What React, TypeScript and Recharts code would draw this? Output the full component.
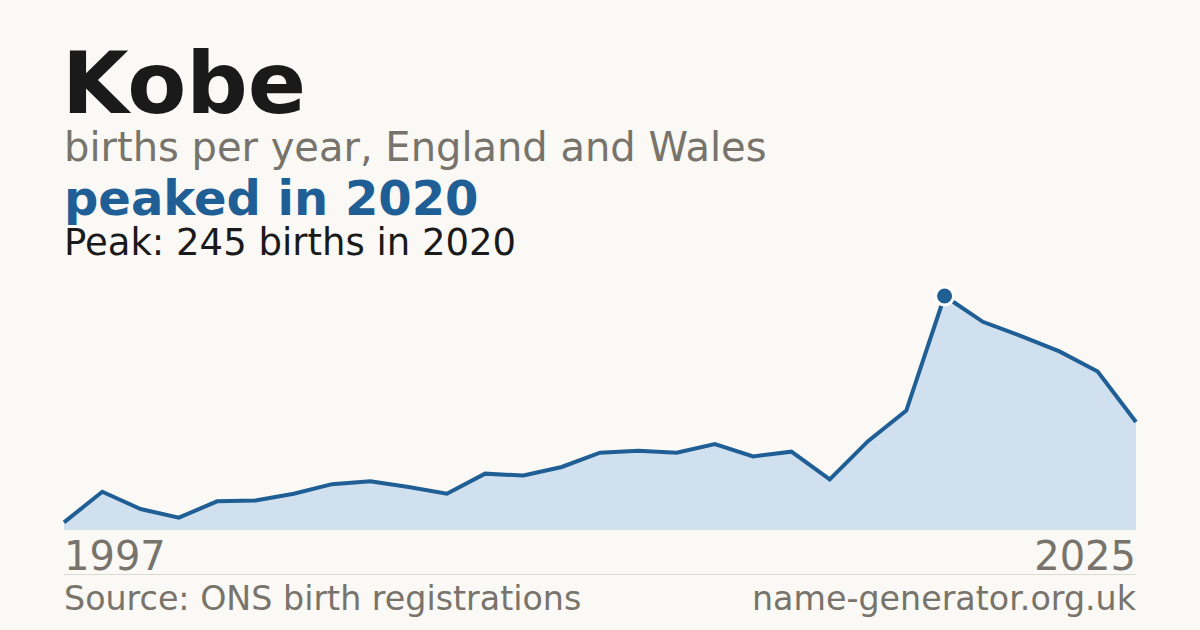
import React from 'react';
import { AreaChart, Area, XAxis, YAxis } from 'recharts';

const YEARS = [1997, 1998, 1999, 2000, 2001, 2002, 2003, 2004, 2005, 2006, 2007, 2008, 2009, 2010, 2011, 2012, 2013, 2014, 2015, 2016, 2017, 2018, 2019, 2020, 2021, 2022, 2023, 2024, 2025];
const BIRTHS = [8, 40, 22, 13, 30, 31, 38, 48, 51, 45, 38, 59, 57, 66, 81, 83, 81, 90, 77, 82, 53, 93, 125, 245, 218, 203, 187, 166, 113];
const TICKS = [1997, 2025];
const PEAK_YEAR = 2020;

const FONT = '"DejaVu Sans", Verdana, sans-serif';
const BLUE = '#1f5f95';
const GREY = '#78736b';

const data = YEARS.map((year, i) => ({ year, births: BIRTHS[i] }));

// year labels pinned to the ends of the axis
const YearTick = (props: any) => {
    const { x, y, payload } = props;
    const first = payload.value === TICKS[0];
    return (
        <text x={x} y={y} dy={32} textAnchor={first ? 'start' : 'end'} fill={GREY} fontSize={40} fontFamily={FONT}>
            {payload.value}
        </text>
    );
};

const PeakDot = (props: any) => {
    const { cx, cy, payload, index } = props;
    if (payload.year !== PEAK_YEAR) return <g key={`d-${index}`} />;
    return <circle key={`d-${index}`} cx={cx} cy={cy} r={9} fill={BLUE} stroke="#ffffff" strokeWidth={3} />;
};

export default function App() {
    return (
        <div style={{ position: 'absolute', left: 0, top: 0, width: 1200, height: 630, background: '#faf9f5', fontFamily: FONT, overflow: 'hidden' }}>
            <div style={{ position: 'absolute', left: 62, top: 40, fontSize: 86, fontWeight: 700, color: '#1a1a1a', lineHeight: '86px' }}>Kobe</div>
            <div style={{ position: 'absolute', left: 64, top: 127, fontSize: 40, color: GREY, lineHeight: '40px' }}>births per year, England and Wales</div>
            <div style={{ position: 'absolute', left: 64, top: 174, fontSize: 48, fontWeight: 700, color: BLUE, lineHeight: '48px' }}>peaked in 2020</div>
            <div style={{ position: 'absolute', left: 64, top: 224, fontSize: 37, color: '#1a1a1a', lineHeight: '37px' }}>Peak: 245 births in 2020</div>

            <div style={{ position: 'absolute', left: 0, top: 0 }}>
                <AreaChart width={1200} height={630} data={data} margin={{ top: 296, right: 64, bottom: 60, left: 64 }}>
                    <XAxis dataKey="year" type="number" domain={[1997, 2025]} ticks={TICKS} tick={<YearTick />} tickLine={false} axisLine={false} height={40} interval={0} />
                    <YAxis hide domain={[0, 245]} />
                    <Area
                        type="linear"
                        dataKey="births"
                        stroke={BLUE}
                        strokeWidth={4}
                        fill="#d0e0ef"
                        fillOpacity={1}
                        dot={<PeakDot />}
                        activeDot={false}
                        isAnimationActive={false}
                    />
                </AreaChart>
            </div>

            <div style={{ position: 'absolute', left: 64, top: 574, width: 1072, height: 1, background: '#dcd9d2' }} />
            <div style={{ position: 'absolute', left: 64, top: 582, fontSize: 33.3, color: GREY, lineHeight: '34px' }}>Source: ONS birth registrations</div>
            <div style={{ position: 'absolute', right: 64, top: 582, fontSize: 33.3, color: GREY, lineHeight: '34px' }}>name-generator.org.uk</div>
        </div>
    );
}
